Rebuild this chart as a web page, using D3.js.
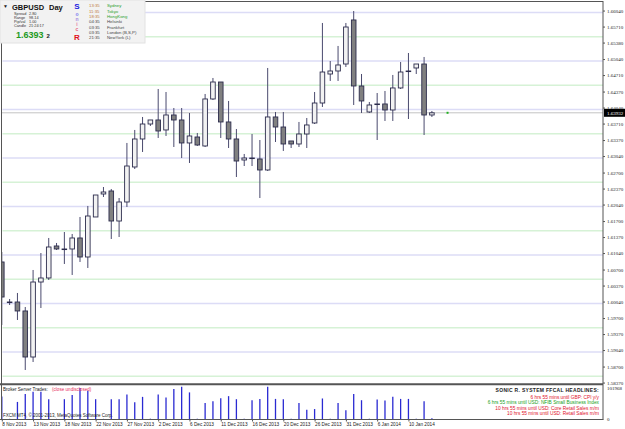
<!DOCTYPE html>
<html>
<head>
<meta charset="utf-8">
<title>GBPUSD Day</title>
<script src="https://cdn.jsdelivr.net/npm/d3@7/dist/d3.min.js"></script>
<style>
	body{margin:0;background:#fff;}
	svg{display:block;font-family:"Liberation Sans",Arial,sans-serif;}
</style>
</head>
<body>
<svg width="625" height="429"></svg>
<script>
/* daily bars, GBPUSD */
var dates=["8 Nov 2013","10 Nov 2013","11 Nov 2013","12 Nov 2013","13 Nov 2013","14 Nov 2013","15 Nov 2013","17 Nov 2013","18 Nov 2013","19 Nov 2013",
"20 Nov 2013","21 Nov 2013","22 Nov 2013","24 Nov 2013","25 Nov 2013","26 Nov 2013","27 Nov 2013","28 Nov 2013","29 Nov 2013","1 Dec 2013",
"2 Dec 2013","3 Dec 2013","4 Dec 2013","5 Dec 2013","6 Dec 2013","8 Dec 2013","9 Dec 2013","10 Dec 2013","11 Dec 2013","12 Dec 2013",
"13 Dec 2013","15 Dec 2013","16 Dec 2013","17 Dec 2013","18 Dec 2013","19 Dec 2013","20 Dec 2013","22 Dec 2013","23 Dec 2013","24 Dec 2013",
"26 Dec 2013","27 Dec 2013","29 Dec 2013","30 Dec 2013","31 Dec 2013","2 Jan 2014","3 Jan 2014","5 Jan 2014","6 Jan 2014","7 Jan 2014",
"8 Jan 2014","9 Jan 2014","10 Jan 2014","12 Jan 2014","13 Jan 2014","14 Jan 2014"];
var opens=[1.60856,1.60020,1.60031,1.59846,1.58897,1.60443,1.60526,1.61186,1.61124,1.61124,
1.61351,1.60959,1.61784,1.62258,1.62320,1.61701,1.62093,1.62815,1.63392,1.63701,
1.63784,1.63578,1.63887,1.63784,1.63310,1.63433,1.63248,1.64217,1.64567,1.63743,
1.63392,1.62959,1.63000,1.62980,1.62753,1.63846,1.63639,1.63351,1.63289,1.63495,
1.63722,1.64134,1.64732,1.64794,1.64938,1.65846,1.64485,1.63949,1.64114,1.64114,
1.63990,1.64444,1.64794,1.64856,1.64938,1.63887];
var highs=[1.61062,1.60093,1.60217,1.59928,1.60691,1.61041,1.61351,1.61248,1.61474,1.61433,
1.61784,1.62011,1.62237,1.62402,1.62361,1.62175,1.63310,1.63578,1.63846,1.63784,
1.64423,1.64361,1.64031,1.64031,1.63928,1.63516,1.64320,1.64650,1.64567,1.64176,
1.63598,1.63083,1.63495,1.63371,1.64856,1.63949,1.63949,1.63351,1.63743,1.63825,
1.64361,1.65784,1.65000,1.65310,1.65784,1.66031,1.64732,1.64155,1.64340,1.64382,
1.64712,1.64980,1.65165,1.64938,1.65083,1.63969];
var lows=[1.59557,1.59969,1.59660,1.58629,1.58794,1.59907,1.60485,1.61103,1.60815,1.60588,
1.60856,1.60732,1.61784,1.62196,1.61330,1.61371,1.61990,1.62773,1.63124,1.63660,
1.63413,1.63454,1.63227,1.63000,1.62897,1.63248,1.63227,1.64196,1.63413,1.63206,
1.62608,1.62835,1.62835,1.62175,1.62732,1.63330,1.63145,1.63206,1.63227,1.63206,
1.63701,1.64052,1.64588,1.64588,1.64877,1.64093,1.63928,1.63928,1.63371,1.63763,
1.63763,1.64423,1.63804,1.64732,1.63474,1.63846];
var closes=[1.60134,1.60031,1.59846,1.58897,1.60443,1.60526,1.61165,1.61124,1.61124,1.61351,
1.60959,1.61804,1.62237,1.62299,1.61701,1.62093,1.62835,1.63392,1.63701,1.63784,
1.63557,1.63887,1.63784,1.63310,1.63454,1.63268,1.64217,1.64567,1.63743,1.63392,
1.62938,1.63000,1.63000,1.62753,1.63846,1.63639,1.63289,1.63289,1.63495,1.63681,
1.64134,1.64773,1.64794,1.64918,1.65701,1.64485,1.64176,1.64093,1.64114,1.63990,
1.64444,1.64773,1.64794,1.64938,1.63887,1.63932];
var volumes=[70000,2000,53500,77250,84400,84400,61800,2000,61800,74200,
95800,87400,61800,2000,61800,61800,76300,52500,68900,2500,
76300,67000,92700,99800,82500,2000,50400,55600,64900,71100,
61800,2000,58700,62700,99800,62700,61800,2000,50400,30000,
31800,64000,2000,50400,27800,77250,58700,2000,60900,57800,
68900,62700,62700,2000,55600,4000];

/* axis labels */
var priceTicks=[1.66040,1.65710,1.65380,1.65040,1.64710,1.64370,1.64040,1.63710,1.63370,1.63040,1.62700,1.62370,
1.62040,1.61700,1.61370,1.61040,1.60700,1.60370,1.60040,1.59700,1.59370,1.59040,1.58700,1.58370];
var dateTicks=["8 Nov 2013","13 Nov 2013","18 Nov 2013","22 Nov 2013","27 Nov 2013","2 Dec 2013","6 Dec 2013",
"11 Dec 2013","16 Dec 2013","20 Dec 2013","26 Dec 2013","31 Dec 2013","6 Jan 2014","10 Jan 2014"];
var roundLevels=[1.660,1.655,1.650,1.645,1.640,1.635,1.630,1.625,1.620,1.615,1.610,1.605,1.600,1.595,1.590,1.585];
var volMax=101968;
var lastPrice=1.63932;

/* headline texts */
var infoRows=[["Spread","2.80"],["Range","98.14"],["Pip/val","1.00"],["Candle","21:24:17"]];
var sessions=[["13:35","Sydney",1],["11:35","Tokyo",1],["18:35","HongKong",1],["04:35","Helsinki",0],
["03:35","Frankfurt",0],["03:35","London (B,S,P)",0],["21:35","NewYork (L)",0]];
var sonic=[["S","#1d1de0"],["o","#7b7bf0"],["n","#a58ce0"],["i","#e57aa5"],["c","#e8607a"],["R","#e01020"]];
var headlines=[["6 hrs 55 mins until GBP: CPI y/y","#e0102a"],
["6 hrs 55 mins until USD: NFIB Small Business Index","#18a018"],
["10 hrs 55 mins until USD: Core Retail Sales m/m","#e0102a"],
["10 hrs 55 mins until USD: Retail Sales m/m","#e0102a"]];

var svg=d3.select("svg");
var plotL=1.5,plotR=603,plotT=2,plotB=383.5;
var volT=386,volB=419.5;

var x=d3.scalePoint().domain(dates).range([1.8,1.8+7.82*(dates.length-1)]);
var step=x.step();
var y=d3.scaleLinear().domain([1.59,1.66]).range([352,12.5]);
var yv=d3.scaleLinear().domain([0,volMax]).range([volB,volT]);

svg.append("rect").attr("width",625).attr("height",429).attr("fill","#fff");

/* round level lines, blue on the hundreds, green on the fifties */
svg.append("g").selectAll("line").data(roundLevels).enter().append("line")
	.attr("x1",plotL+1).attr("x2",plotR)
	.attr("y1",function(d){return y(d);}).attr("y2",function(d){return y(d);})
	.attr("stroke",function(d){return Math.round(d*1000)%10==0?"#dcdcf6":"#d6f2d6";})
	.attr("stroke-width",1.3);

/* current price line */
svg.append("line").attr("x1",plotL).attr("x2",plotR)
	.attr("y1",y(lastPrice)).attr("y2",y(lastPrice))
	.attr("stroke","#c4c4c4").attr("stroke-width",1);

svg.append("clipPath").attr("id","plotclip").append("rect")
	.attr("x",plotL).attr("y",plotT).attr("width",plotR-plotL).attr("height",plotB-plotT);

var bars=d3.range(dates.length).map(function(i){
	return {date:dates[i],o:opens[i],h:highs[i],l:lows[i],c:closes[i],v:volumes[i]};
});

var cg=svg.append("g").attr("clip-path","url(#plotclip)");
var gs=cg.selectAll(".bar").data(bars).enter().append("g")
	.attr("transform",function(d){return "translate("+x(d.date)+",0)";});
gs.append("line")
	.attr("y1",function(d){return y(d.h);}).attr("y2",function(d){return y(d.l);})
	.attr("stroke","#4a4a6e").attr("stroke-width",1);
gs.append("rect")
	.attr("x",-2.3).attr("width",4.6)
	.attr("y",function(d){return y(Math.max(d.o,d.c));})
	.attr("height",function(d){return Math.max(Math.abs(y(d.o)-y(d.c)),0.6);})
	.attr("fill",function(d){return d.c>=d.o?"#f2f2f2":"#808080";})
	.attr("stroke","#2c2c4c").attr("stroke-width",0.9);

/* the small green marker after the last bar */
svg.append("rect").attr("x",x(dates[dates.length-1])+2*step-1).attr("y",y(lastPrice)-1)
	.attr("width",2).attr("height",2).attr("fill","#1fb01f");

/* volume panel */
svg.append("g").selectAll("line").data(bars).enter().append("line")
	.attr("x1",function(d){return x(d.date);}).attr("x2",function(d){return x(d.date);})
	.attr("y1",volB).attr("y2",function(d){return yv(d.v);})
	.attr("stroke","#2a2ad2").attr("stroke-width",1.3);

/* frame */
svg.append("line").attr("x1",0).attr("x2",plotR).attr("y1",1.5).attr("y2",1.5).attr("stroke","#555").attr("stroke-width",1);
svg.append("line").attr("x1",plotL).attr("x2",plotL).attr("y1",1).attr("y2",volB).attr("stroke","#555").attr("stroke-width",1);
svg.append("line").attr("x1",0).attr("x2",plotR).attr("y1",384.3).attr("y2",384.3).attr("stroke","#555").attr("stroke-width",2);
svg.append("line").attr("x1",0).attr("x2",plotR+0.5).attr("y1",volB).attr("y2",volB).attr("stroke","#555").attr("stroke-width",1);
svg.append("line").attr("x1",plotR).attr("x2",plotR).attr("y1",1).attr("y2",volB).attr("stroke","#555").attr("stroke-width",1);

/* price axis */
var yAxis=d3.axisRight(y).tickValues(priceTicks).tickSize(2).tickFormat(d3.format(".5f"));
var ya=svg.append("g").attr("transform","translate("+plotR+",0)").call(yAxis);
ya.select(".domain").remove();
ya.selectAll("line").attr("stroke","#555");
ya.selectAll("text").attr("x",4).attr("fill","#222").style("font-size","5px").style("font-family","Liberation Serif,serif");

var hl=svg.append("g").attr("transform","translate("+(plotR+1)+","+y(lastPrice)+")");
hl.append("rect").attr("x",0).attr("y",-4).attr("width",21).attr("height",8).attr("fill","#000");
hl.append("text").attr("x",3).attr("y",2).attr("fill","#fff").style("font-size","5px")
	.style("font-family","Liberation Serif,serif").text(d3.format(".5f")(lastPrice));

/* volume axis labels */
svg.append("text").attr("x",plotR+4).attr("y",volT+4).attr("fill","#222").style("font-size","5px")
	.style("font-family","Liberation Serif,serif").text(volMax);
svg.append("text").attr("x",plotR+4).attr("y",volB+1).attr("fill","#222").style("font-size","5px")
	.style("font-family","Liberation Serif,serif").text("0");

/* date axis */
var xAxis=d3.axisBottom(x).tickValues(dateTicks).tickSize(2);
var xa=svg.append("g").attr("transform","translate(0,"+volB+")").call(xAxis);
xa.select(".domain").remove();
xa.selectAll("line").attr("stroke","#555");
xa.selectAll("text").attr("y",3.5).attr("text-anchor","start").attr("fill","#222").style("font-size","4.7px");

/* panel texts */
svg.append("text").attr("x",3).attr("y",391).style("font-size","4.6px").attr("fill","#222").text("Broker Server Trades:");
svg.append("text").attr("x",52).attr("y",391).style("font-size","4.6px").attr("fill","#e8305a").text("(close undisclosed)");
svg.append("text").attr("x",3).attr("y",416.5).style("font-size","4.5px").attr("fill","#222")
	.text("FXCM MT4, \u00a9 2001-2013, MetaQuotes Software Corp.");

svg.append("text").attr("x",599).attr("y",392).attr("text-anchor","end").style("font-size","5px")
	.style("font-weight","bold").style("letter-spacing","0.3px").attr("fill","#222").text("SONIC R. SYSTEM FFCAL HEADLINES:");
svg.append("g").selectAll("text").data(headlines).enter().append("text")
	.attr("x",599).attr("y",function(d,i){return 399+i*5.4;}).attr("text-anchor","end")
	.style("font-size","4.8px").attr("fill",function(d){return d[1];}).text(function(d){return d[0];});

/* info box top left */
var info=svg.append("g");
info.append("rect").attr("x",0).attr("y",0).attr("width",145).attr("height",43).attr("fill","#f2f2f2").attr("stroke","#e2e2e2");
info.append("text").attr("x",3).attr("y",8).style("font-size","5px").attr("fill","#222").text("\u25BC");
info.append("text").attr("x",12).attr("y",10).style("font-size","7.5px").style("font-weight","bold").attr("fill","#111").text("GBPUSD");
info.append("text").attr("x",49).attr("y",10).style("font-size","7.5px").style("font-weight","bold").attr("fill","#111").text("Day");
info.selectAll(".row").data(infoRows).enter().append("text")
	.attr("x",14).attr("y",function(d,i){return 15+i*3.9;}).style("font-size","3.8px").attr("fill","#333")
	.text(function(d){return d[0];});
info.selectAll(".val").data(infoRows).enter().append("text")
	.attr("x",29).attr("y",function(d,i){return 15+i*3.9;}).style("font-size","3.8px").attr("fill","#333")
	.text(function(d){return d[1];});
info.append("text").attr("x",16).attr("y",38).style("font-size","9px").style("font-weight","bold").attr("fill","#1f9a1f")
	.text(d3.format(".4f")(Math.floor(lastPrice*10000)/10000));
info.append("text").attr("x",46.5).attr("y",38).style("font-size","6px").style("font-weight","bold").attr("fill","#222")
	.text(String(Math.round(lastPrice*100000)%10));
var sy=[8.5,15.5,20.5,26,31,39.5];
info.selectAll(".sonic").data(sonic).enter().append("text")
	.attr("x",77).attr("y",function(d,i){return sy[i];}).attr("text-anchor","middle")
	.style("font-size",function(d,i){return (i==0||i==5)?"8px":"5px";})
	.style("font-weight","bold").attr("fill",function(d){return d[1];}).text(function(d){return d[0];});
info.selectAll(".tm").data(sessions).enter().append("text")
	.attr("x",89).attr("y",function(d,i){return 7.4+i*5.3;}).style("font-size","4.3px")
	.attr("fill",function(d){return d[2]?"#c07a3a":"#444";}).text(function(d){return d[0];});
info.selectAll(".city").data(sessions).enter().append("text")
	.attr("x",107).attr("y",function(d,i){return 7.4+i*5.3;}).style("font-size","4.3px")
	.attr("fill",function(d){return d[2]?"#2aa02a":"#444";}).text(function(d){return d[1];});
</script>
</body>
</html>
